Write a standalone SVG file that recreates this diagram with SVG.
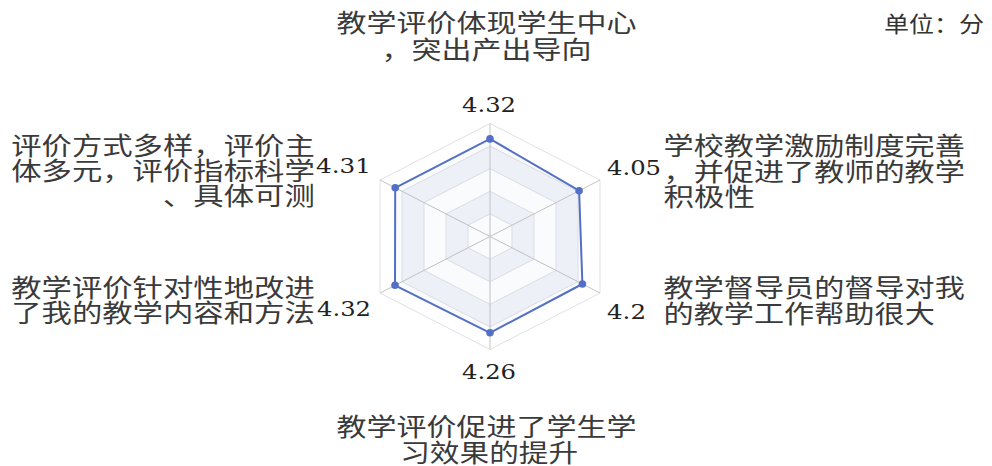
<svg xmlns="http://www.w3.org/2000/svg" width="992" height="466" viewBox="0 0 992 466">
<style>
.t{font-family:"Liberation Serif","Noto Sans CJK SC",serif;font-size:25px;fill:#3a3a3a}
.v{font-family:"DejaVu Serif","Liberation Serif",serif;font-size:20px;fill:#222}
.u{font-family:"Liberation Serif","Noto Sans CJK SC",serif;font-size:22px;fill:#333}
.ring{fill:none;stroke:#e0e1e6;stroke-width:1}
.spoke{stroke:#c4c4c4;stroke-width:1}
.band{fill:#f3f4f9}
.blank{fill:#ffffff}
.dot{fill:#5470c6}
</style>
<rect width="992" height="466" fill="#ffffff"/>
<g id="grid">
<polygon class="blank" points="490,123.5 380,180 380,293 490,349.5 600,293 600,180"/>
<polygon class="band" points="490,146.1 402,191.3 402,281.7 490,326.9 578,281.7 578,191.3"/>
<polygon class="blank" points="490,168.7 424,202.6 424,270.4 490,304.3 556,270.4 556,202.6"/>
<polygon class="band" points="490,191.3 446,213.9 446,259.1 490,281.7 534,259.1 534,213.9"/>
<polygon class="blank" points="490,213.9 468,225.2 468,247.8 490,259.1 512,247.8 512,225.2"/>
<polygon class="ring" points="490,123.5 380,180 380,293 490,349.5 600,293 600,180"/>
<polygon class="ring" points="490,146.1 402,191.3 402,281.7 490,326.9 578,281.7 578,191.3"/>
<polygon class="ring" points="490,168.7 424,202.6 424,270.4 490,304.3 556,270.4 556,202.6"/>
<polygon class="ring" points="490,191.3 446,213.9 446,259.1 490,281.7 534,259.1 534,213.9"/>
<polygon class="ring" points="490,213.9 468,225.2 468,247.8 490,259.1 512,247.8 512,225.2"/>
<line class="spoke" x1="490" y1="236.5" x2="490" y2="123.5"/>
<line class="spoke" x1="490" y1="236.5" x2="380" y2="180"/>
<line class="spoke" x1="490" y1="236.5" x2="380" y2="293"/>
<line class="spoke" x1="490" y1="236.5" x2="490" y2="349.5"/>
<line class="spoke" x1="490" y1="236.5" x2="600" y2="293"/>
<line class="spoke" x1="490" y1="236.5" x2="600" y2="180"/>
</g>
<g id="series">
<polygon points="490,138.9 395.2,187.8 395,285.3 490,332.8 582.4,284 579.1,190.7" fill="#5470c6" fill-opacity="0.03" stroke="#5470c6" stroke-width="2" stroke-linejoin="round"/>
<circle class="dot" cx="490" cy="138.9" r="3.8"/>
<circle class="dot" cx="395.2" cy="187.8" r="3.8"/>
<circle class="dot" cx="395" cy="285.3" r="3.8"/>
<circle class="dot" cx="490" cy="332.8" r="3.8"/>
<circle class="dot" cx="582.4" cy="284" r="3.8"/>
<circle class="dot" cx="579.1" cy="190.7" r="3.8"/>
</g>
<g id="values">
<text class="v" x="462" y="111.5" textLength="54" lengthAdjust="spacingAndGlyphs">4.32</text>
<text class="v" x="316" y="173" textLength="55" lengthAdjust="spacingAndGlyphs">4.31</text>
<text class="v" x="317" y="316" textLength="54" lengthAdjust="spacingAndGlyphs">4.32</text>
<text class="v" x="607" y="175" textLength="54" lengthAdjust="spacingAndGlyphs">4.05</text>
<text class="v" x="607" y="318.5" textLength="39" lengthAdjust="spacingAndGlyphs">4.2</text>
<text class="v" x="462" y="378.5" textLength="54" lengthAdjust="spacingAndGlyphs">4.26</text>
</g>
<g id="label-top">
<text class="t" x="336.5" y="31.5" textLength="300" lengthAdjust="spacingAndGlyphs">教学评价体现学生中心</text>
<text class="t" x="381.5" y="59" textLength="210" lengthAdjust="spacingAndGlyphs">，突出产出导向</text>
</g>
<g id="label-upper-left">
<text class="t" x="11.2" y="154.8" textLength="303.6" lengthAdjust="spacingAndGlyphs">评价方式多样，评价主</text>
<text class="t" x="11.2" y="179.8" textLength="303.6" lengthAdjust="spacingAndGlyphs">体多元，评价指标科学</text>
<text class="t" x="163" y="204.8" textLength="151.8" lengthAdjust="spacingAndGlyphs">、具体可测</text>
</g>
<g id="label-lower-left">
<text class="t" x="11.2" y="297.3" textLength="303.6" lengthAdjust="spacingAndGlyphs">教学评价针对性地改进</text>
<text class="t" x="11.2" y="322.3" textLength="303.6" lengthAdjust="spacingAndGlyphs">了我的教学内容和方法</text>
</g>
<g id="label-bottom">
<text class="t" x="336.5" y="435.7" textLength="300" lengthAdjust="spacingAndGlyphs">教学评价促进了学生学</text>
<text class="t" x="400.2" y="461.5" textLength="178" lengthAdjust="spacingAndGlyphs">习效果的提升</text>
</g>
<g id="label-lower-right">
<text class="t" x="663.5" y="297" textLength="301.3" lengthAdjust="spacingAndGlyphs">教学督导员的督导对我</text>
<text class="t" x="663.5" y="322.5" textLength="271.3" lengthAdjust="spacingAndGlyphs">的教学工作帮助很大</text>
</g>
<g id="label-upper-right">
<text class="t" x="663.5" y="155" textLength="301.3" lengthAdjust="spacingAndGlyphs">学校教学激励制度完善</text>
<text class="t" x="663.5" y="180.5" textLength="301.3" lengthAdjust="spacingAndGlyphs">，并促进了教师的教学</text>
<text class="t" x="663.5" y="206" textLength="91.5" lengthAdjust="spacingAndGlyphs">积极性</text>
</g>
<g id="unit">
<text class="u" x="884" y="32" textLength="100" lengthAdjust="spacingAndGlyphs">单位：分</text>
</g>
</svg>
